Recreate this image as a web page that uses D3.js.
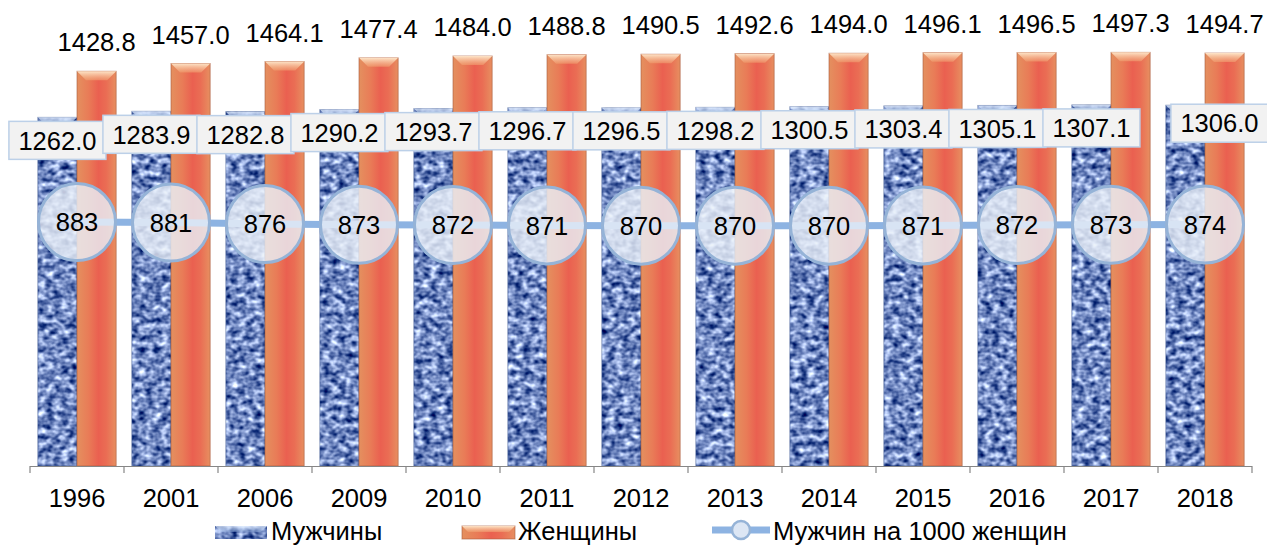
<!DOCTYPE html>
<html><head><meta charset="utf-8">
<script src="https://cdn.jsdelivr.net/npm/d3@7"></script>
<style>
html,body{margin:0;padding:0;background:#fff;}
svg{display:block;font-family:"Liberation Sans",Arial,sans-serif;}
</style></head>
<body>
<svg id="chart" width="1267" height="545"></svg>
<script>
const categories = ["1996","2001","2006","2009","2010","2011","2012","2013","2014","2015","2016","2017","2018"];
const men = [1262.0,1283.9,1282.8,1290.2,1293.7,1296.7,1296.5,1298.2,1300.5,1303.4,1305.1,1307.1,1306.0];
const women = [1428.8,1457.0,1464.1,1477.4,1484.0,1488.8,1490.5,1492.6,1494.0,1496.1,1496.5,1497.3,1494.7];
const ratio = [883,881,876,873,872,871,870,870,870,871,872,873,874];
const seriesNames = ["Мужчины","Женщины","Мужчин на 1000 женщин"];

const svg = d3.select("#chart");
const defs = svg.append("defs");

// blue denim-like texture
const f = defs.append("filter").attr("id","denim").attr("x",0).attr("y",0).attr("width",1).attr("height",1)
  .attr("color-interpolation-filters","sRGB");
f.append("feTurbulence").attr("type","fractalNoise").attr("baseFrequency","0.13 0.17").attr("numOctaves",2).attr("seed",5).attr("result","n");
f.append("feColorMatrix").attr("in","n").attr("type","matrix")
 .attr("values","1.55 0 0 0 -0.33  1.45 0 0 0 -0.19  1.15 0 0 0 0.18  0 0 0 0 1").attr("result","c");
f.append("feComposite").attr("in","c").attr("in2","SourceGraphic").attr("operator","in");

const og = defs.append("linearGradient").attr("id","orangeG").attr("x1","0").attr("x2","1").attr("y1","0").attr("y2","0");
[["0","#e4905f"],["0.3","#e97b57"],["0.55","#ea6050"],["0.75","#ea6d54"],["1","#e78f60"]].forEach(s=>og.append("stop").attr("offset",s[0]).attr("stop-color",s[1]));
const bevO = defs.append("linearGradient").attr("id","bevO").attr("x1","0").attr("x2","0").attr("y1","0").attr("y2","1");
bevO.append("stop").attr("offset","0").attr("stop-color","#fde4c8");
bevO.append("stop").attr("offset","1").attr("stop-color","#f0a070").attr("stop-opacity",0.6);
const bevB = defs.append("linearGradient").attr("id","bevB").attr("x1","0").attr("x2","0").attr("y1","0").attr("y2","1");
bevB.append("stop").attr("offset","0").attr("stop-color","#dfeafb");
bevB.append("stop").attr("offset","1").attr("stop-color","#9fbbe6").attr("stop-opacity",0.5);

const x = d3.scaleBand().domain(categories).range([30,1252]).paddingInner(0).paddingOuter(0);
const xs = d3.scaleBand().domain(["m","w"]).range([0,x.bandwidth()]).paddingInner(0).paddingOuter(0.2);
const y = d3.scaleLinear().domain([0,1600]).range([466,24]);

const fs = 25.5;

// bars
const g = svg.append("g");
categories.forEach((c,i)=>{
  const bw = xs.bandwidth();
  const mx = x(c)+xs("m"), my = y(men[i]);
  g.append("rect").attr("x",mx).attr("y",my).attr("width",bw).attr("height",y(0)-my).attr("fill","#4a70b0").attr("filter","url(#denim)");
  g.append("rect").attr("x",mx).attr("y",my).attr("width",bw).attr("height",y(0)-my).attr("fill","none").attr("stroke","#34508a").attr("stroke-opacity",0.5).attr("stroke-width",1);
  g.append("polygon").attr("points",`${mx},${my} ${mx+bw},${my} ${mx+bw-8},${my+8} ${mx+8},${my+8}`).attr("fill","url(#bevB)").attr("opacity",0.85);
  const wx = x(c)+xs("w"), wy = y(women[i]);
  g.append("rect").attr("x",wx).attr("y",wy).attr("width",bw).attr("height",y(0)-wy).attr("fill","url(#orangeG)").attr("stroke","#a85a3c").attr("stroke-opacity",0.6).attr("stroke-width",1);
  g.append("polygon").attr("points",`${wx},${wy} ${wx+bw},${wy} ${wx+bw-9},${wy+9} ${wx+9},${wy+9}`).attr("fill","url(#bevO)");
});

// axis
const ax = svg.append("g").attr("transform",`translate(0,${y(0)})`);
ax.append("line").attr("x1",30).attr("x2",1252).attr("y1",0.5).attr("y2",0.5).attr("stroke","#868686").attr("stroke-width",1.2);
const bounds = categories.map(c=>x(c)).concat([x.range()[1]]);
ax.selectAll("line.tk").data(bounds).join("line").attr("class","tk")
  .attr("x1",d=>d).attr("x2",d=>d).attr("y1",0).attr("y2",7).attr("stroke","#868686").attr("stroke-width",1.2);
const axis = d3.axisBottom(x).tickSize(0).tickPadding(0);
const axG = svg.append("g").attr("transform",`translate(0,${y(0)})`).call(axis);
axG.select(".domain").remove();
axG.selectAll("text").attr("y",41).attr("dy",null).attr("font-size",fs).attr("font-family","Liberation Sans, Arial, sans-serif").attr("fill","#000");

// line + circles
const cx = c => x(c)+x.bandwidth()/2;
const line = d3.line().x((d,i)=>cx(categories[i])).y(d=>y(d));
svg.append("path").datum(ratio).attr("d",line).attr("fill","none").attr("stroke","#8db3e2").attr("stroke-width",7);
const cg = svg.append("g");
ratio.forEach((v,i)=>{
  const px = cx(categories[i]), py = y(v);
  cg.append("circle").attr("cx",px).attr("cy",py).attr("r",38.5).attr("fill","#e9eff8").attr("fill-opacity",0.82).attr("stroke","#95b3d7").attr("stroke-width",3);
  cg.append("text").attr("x",px).attr("y",py).attr("dy","0.36em").attr("text-anchor","middle").attr("font-size",fs).attr("fill","#000").text(d3.format("d")(v));
});

// men labels (boxed)
const lg = svg.append("g");
men.forEach((v,i)=>{
  const last = i===categories.length-1;
  const px = x(categories[i])+xs("m")+xs.bandwidth()/2 + (last?34:0);
  const cy = y(v) + (last?18:23);
  const w = 97, h = 38;
  lg.append("rect").attr("x",px-w/2).attr("y",cy-h/2).attr("width",w).attr("height",h).attr("fill","#f2f2f2").attr("stroke","#bcd0e8").attr("stroke-width",1.5);
  lg.append("text").attr("x",px).attr("y",cy).attr("dy","0.36em").attr("text-anchor","middle").attr("font-size",fs).attr("fill","#000").text(d3.format(".1f")(v));
});
women.forEach((v,i)=>{
  const px = x(categories[i])+xs("w")+xs.bandwidth()/2;
  lg.append("text").attr("x",px).attr("y",y(v)-20).attr("text-anchor","middle").attr("font-size",fs).attr("fill","#000").text(d3.format(".1f")(v));
});

// legend
const leg = svg.append("g");
const ly = 532;
leg.append("rect").attr("x",215).attr("y",ly-6).attr("width",52).attr("height",13).attr("fill","#4a70b0").attr("filter","url(#denim)");
leg.append("polygon").attr("points",`215,${ly-6} 267,${ly-6} 261,${ly} 221,${ly}`).attr("fill","url(#bevB)").attr("opacity",0.8);
leg.append("text").attr("x",271).attr("y",540).attr("font-size",fs).text(seriesNames[0]);
leg.append("rect").attr("x",462).attr("y",ly-6).attr("width",53).attr("height",13).attr("fill","url(#orangeG)").attr("stroke","#a85a3c").attr("stroke-opacity",0.6);
leg.append("polygon").attr("points",`462,${ly-6} 515,${ly-6} 509,${ly} 468,${ly}`).attr("fill","url(#bevO)");
leg.append("text").attr("x",518).attr("y",540).attr("font-size",fs).text(seriesNames[1]);
leg.append("line").attr("x1",712).attr("x2",770).attr("y1",ly-2).attr("y2",ly-2).attr("stroke","#8db3e2").attr("stroke-width",7);
leg.append("circle").attr("cx",741).attr("cy",ly-2).attr("r",9).attr("fill","#dce6f4").attr("stroke","#95b3d7").attr("stroke-width",2.5);
leg.append("text").attr("x",773).attr("y",540).attr("font-size",fs).text(seriesNames[2]);
</script>
</body></html>
